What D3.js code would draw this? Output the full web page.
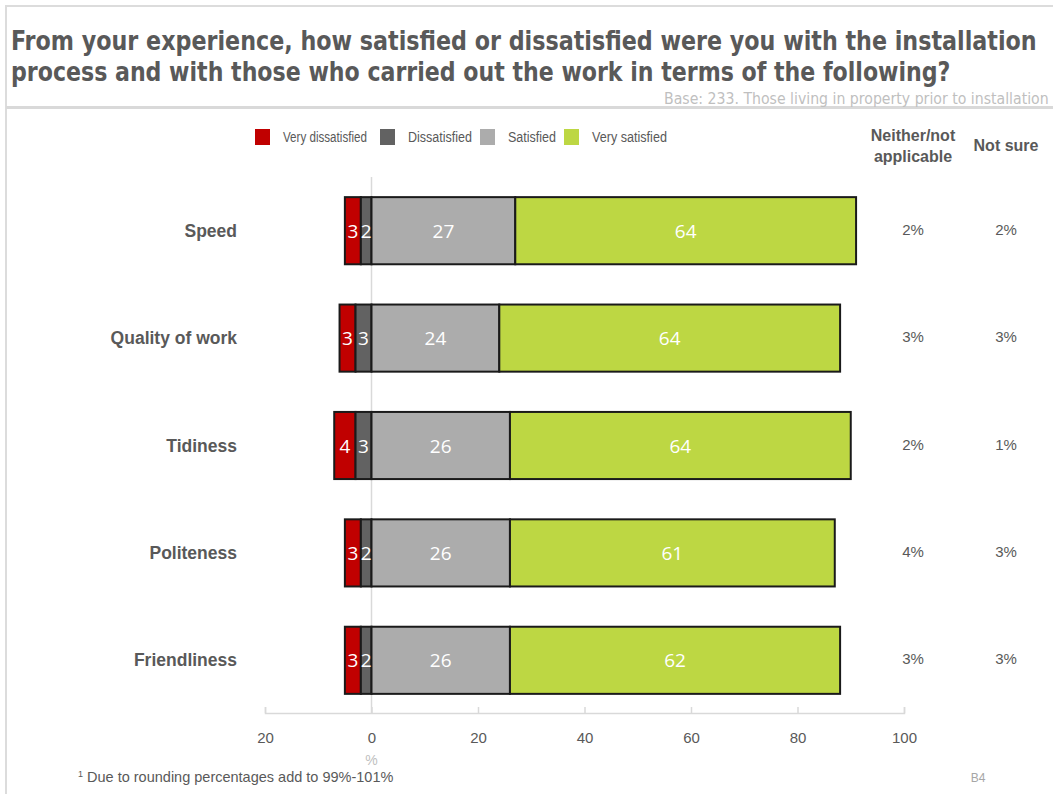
<!DOCTYPE html>
<html>
<head>
<meta charset="utf-8">
<script src="https://cdn.jsdelivr.net/npm/d3@7"></script>
<style>
  html, body { margin: 0; padding: 0; background: #fff; }
  svg { display: block; }
</style>
</head>
<body>
<svg id="chart" width="1053" height="794"></svg>
<script>
// Survey items and response shares (%)
const categories = ["Speed", "Quality of work", "Tidiness", "Politeness", "Friendliness"];
const veryDissatisfied = [3, 3, 4, 3, 3];
const dissatisfied     = [2, 3, 3, 2, 2];
const satisfied        = [27, 24, 26, 26, 26];
const verySatisfied    = [64, 64, 64, 61, 62];
const neitherNA        = ["2%", "3%", "2%", "4%", "3%"];
const notSure          = ["2%", "3%", "1%", "3%", "3%"];
const seriesNames = ["Very dissatisfied", "Dissatisfied", "Satisfied", "Very satisfied"];
const seriesColors = ["#c00000", "#626262", "#acacac", "#bdd743"];
const tickValues = [-20, 0, 20, 40, 60, 80, 100];

const svg = d3.select("#chart");
const grey = "#595959";
const sans = "'Liberation Sans', Arial, sans-serif";
const narrow = "'Liberation Sans Narrow', 'DejaVu Sans Condensed', 'Liberation Sans', sans-serif";

// Draws a text whose natural width is squeezed horizontally to a given width.
// anchor "start": (x, y) is left end; "end": (x, y) is right end.
function condensedText(parent, x, y, width, anchor) {
  const g = parent.append("g");
  const t = g.append("text").attr("x", 0).attr("y", 0);
  return {
    text: t,
    fit() {
      const w = t.node().getComputedTextLength();
      const s = Math.min(1, width / w);
      const x0 = anchor === "end" ? x - w * s : x;
      g.attr("transform", `translate(${x0},${y}) scale(${s},1)`);
    }
  };
}

// Frame lines
svg.append("line").attr("x1", 6).attr("x2", 1053).attr("y1", 6).attr("y2", 6)
  .attr("stroke", "#dcdcdc").attr("stroke-width", 2);
svg.append("line").attr("x1", 6).attr("x2", 6).attr("y1", 5).attr("y2", 794)
  .attr("stroke", "#dcdcdc").attr("stroke-width", 2);
svg.append("line").attr("x1", 6).attr("x2", 1053).attr("y1", 107.5).attr("y2", 107.5)
  .attr("stroke", "#d9d9d9").attr("stroke-width", 3);

// Title
const titleLines = [
  "From your experience, how satisfied or dissatisfied were you with the installation",
  "process and with those who carried out the work in terms of the following?"
];
const titleWidths = [1026, 940];
titleLines.forEach((t, i) => {
  const c = condensedText(svg, 11, 50 + i * 31, titleWidths[i], "start");
  c.text.attr("font-family", narrow).attr("font-weight", "bold")
    .attr("font-size", 26).attr("fill", grey).text(t);
  c.fit();
});
const base = condensedText(svg, 1049, 104, 385, "end");
base.text.attr("font-family", narrow).attr("font-size", 16).attr("fill", "#bfbfbf")
  .text("Base: 233. Those living in property prior to installation");
base.fit();

// Scales
const x = d3.scaleLinear().domain([-20, 100]).range([265, 904]);
const y = d3.scaleBand().domain(categories).range([177, 714])
  .paddingInner(0.375).paddingOuter(0.1875);

// Stacked data: dissatisfied segments extend left of zero
const rows = categories.map((c, i) => {
  const vd = veryDissatisfied[i], d = dissatisfied[i], s = satisfied[i], vs = verySatisfied[i];
  return {
    cat: c,
    segs: [
      { k: 0, v: vd, x0: -(vd + d), x1: -d },
      { k: 1, v: d, x0: -d, x1: 0 },
      { k: 2, v: s, x0: 0, x1: s },
      { k: 3, v: vs, x0: s, x1: s + vs }
    ]
  };
});

// Zero reference line
svg.append("line").attr("x1", x(0)).attr("x2", x(0)).attr("y1", 177).attr("y2", 713)
  .attr("stroke", "#d9d9d9").attr("stroke-width", 1.5);

// Axis
const axis = svg.append("g").attr("transform", `translate(0,713)`)
  .call(d3.axisBottom(x).tickValues(tickValues).tickSize(-6).tickPadding(0)
    .tickFormat(v => Math.abs(v)));
axis.select(".domain").attr("stroke", "#d9d9d9").attr("stroke-width", 1.5);
axis.selectAll(".tick line").attr("stroke", "#d9d9d9").attr("stroke-width", 1.5);
axis.selectAll(".tick text").attr("y", 30).attr("dy", 0)
  .attr("font-family", sans).attr("font-size", 15).attr("fill", grey);
svg.append("text").attr("x", x(0)).attr("y", 765).attr("text-anchor", "middle")
  .attr("font-family", sans).attr("font-size", 14).attr("fill", "#bfbfbf").text("%");

// Bars
const g = svg.append("g");
rows.forEach(r => {
  const row = g.append("g");
  row.selectAll("rect.seg").data(r.segs).join("rect")
    .attr("class", "seg")
    .attr("x", d => x(d.x0)).attr("width", d => x(d.x1) - x(d.x0))
    .attr("y", y(r.cat)).attr("height", y.bandwidth())
    .attr("fill", d => seriesColors[d.k])
    .attr("stroke", "#1a1a1a").attr("stroke-width", 2);
  row.selectAll("text.lbl").data(r.segs).join("text")
    .attr("class", "lbl")
    .attr("x", d => (x(d.x0) + x(d.x1)) / 2)
    .attr("y", y(r.cat) + y.bandwidth() / 2 + 7)
    .attr("text-anchor", "middle")
    .attr("font-family", "'Open Sans', 'Noto Sans', sans-serif")
    .attr("font-size", 19).attr("fill", "#fff")
    .text(d => d.v);
});

// Category labels
svg.selectAll("text.cat").data(categories).join("text")
  .attr("class", "cat")
  .attr("x", 237).attr("y", d => y(d) + y.bandwidth() / 2 + 6)
  .attr("text-anchor", "end")
  .attr("font-family", sans).attr("font-weight", "bold").attr("font-size", 17.5)
  .attr("fill", grey).text(d => d);

// Side columns
const colX = [913, 1006];
const hdr1 = svg.append("text").attr("text-anchor", "middle")
  .attr("font-family", sans).attr("font-weight", "bold").attr("font-size", 16).attr("fill", grey);
hdr1.append("tspan").attr("x", colX[0]).attr("y", 141).text("Neither/not");
hdr1.append("tspan").attr("x", colX[0]).attr("y", 162).text("applicable");
svg.append("text").attr("x", colX[1]).attr("y", 151).attr("text-anchor", "middle")
  .attr("font-family", sans).attr("font-weight", "bold").attr("font-size", 16).attr("fill", grey)
  .text("Not sure");
[neitherNA, notSure].forEach((arr, j) => {
  svg.selectAll(null).data(categories).join("text")
    .attr("x", colX[j]).attr("y", (d, i) => y(d) + y.bandwidth() / 2 + 4)
    .attr("text-anchor", "middle")
    .attr("font-family", sans).attr("font-size", 15).attr("fill", grey)
    .text((d, i) => arr[i]);
});

// Legend
const legendX = [255, 380, 480, 564];
const legendTextW = [84, 64, 48, 75];
const lg = svg.append("g");
seriesNames.forEach((n, i) => {
  lg.append("rect").attr("x", legendX[i]).attr("y", 129).attr("width", 15).attr("height", 16)
    .attr("fill", seriesColors[i]);
  const c = condensedText(lg, legendX[i] + 28, 142, legendTextW[i], "start");
  c.text.attr("font-family", sans).attr("font-size", 15).attr("fill", grey).text(n);
  c.fit();
});

// Footer
const foot = svg.append("text").attr("x", 78).attr("y", 782)
  .attr("font-family", sans).attr("font-size", 14.5).attr("fill", grey);
foot.append("tspan").attr("font-size", 9).attr("dy", -5).text("1");
foot.append("tspan").attr("dy", 5).text(" Due to rounding percentages add to 99%-101%");
svg.append("text").attr("x", 978).attr("y", 782).attr("text-anchor", "middle")
  .attr("font-family", sans).attr("font-size", 12).attr("fill", "#a6a6a6").text("B4");
</script>
</body>
</html>
